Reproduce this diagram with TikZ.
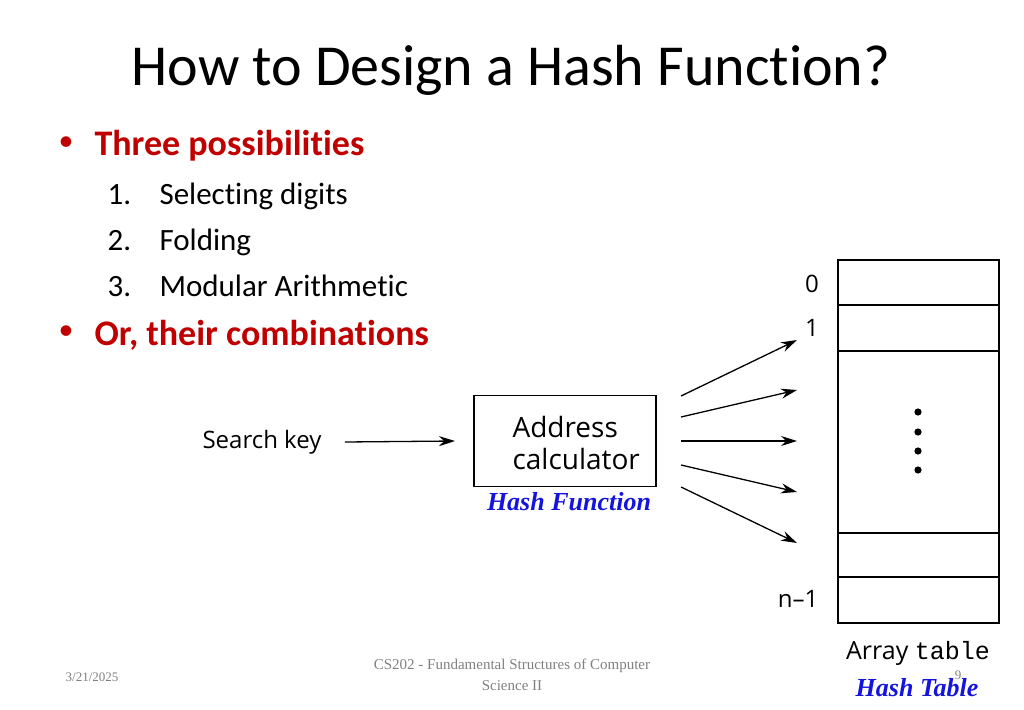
\documentclass[tikz,border=0pt]{standalone}
\usepackage{fontspec}
\setmainfont[Ligatures=NoCommon]{Carlito}
\newfontfamily\diagfont{Open Sans}
\newfontfamily\timesfont{Liberation Serif}
\newfontfamily\monofont{Liberation Mono}
\usetikzlibrary{arrows.meta}
\definecolor{darkred}{RGB}{192,0,0}
\definecolor{hashblue}{RGB}{20,20,220}
\tikzset{
  bullet/.style={anchor=west,font=\fontsize{36}{40}\selectfont\bfseries,text=darkred},
  dot/.style={font=\fontsize{30}{34}\selectfont,text=darkred},
  item/.style={anchor=base west,font=\fontsize{31}{34}\selectfont},
  diag/.style={font=\diagfont\fontsize{24}{28}\selectfont},
  blue label/.style={font=\timesfont\fontsize{26}{30}\selectfont\bfseries\itshape,text=hashblue},
  ptr/.style={-{Stealth[length=16pt,width=10pt]},line width=1.3pt}
}
\begin{document}
\begin{tikzpicture}[x=1pt,y=-1pt]
\useasboundingbox (0,0) rectangle (1024,709);
% title and bullets
\node (title) at (511,70) {\fontsize{58}{64}\selectfont How to Design a Hash Function?};
\node[dot] (d1) at (66,144) {\textbullet};
\node[bullet] (b1) at (91,146) {Three possibilities};
\foreach \n/\t/\y in {1/Selecting digits/204,2/Folding/250,3/Modular Arithmetic/296}{
  \node[item] (n\n) at (104,\y) {\n.};
  \node[item] (i\n) at (156,\y) {\t};
}
\node[dot] (d2) at (66,333) {\textbullet};
\node[bullet] (b2) at (91,335) {Or, their combinations};
% array table
\draw[line width=1.4pt] (838,260) rectangle (999,623);
\foreach \y in {305,351,533,577}
  \draw[line width=1.4pt] (838,\y) -- (999,\y);
\foreach \y in {412,432,451,470}
  \fill (918,\y) circle (3.6pt);
\node[diag] (l0) at (812,284) {0};
\node[diag] (l1) at (812,328) {1};
\node[diag] (ln) at (798,599) {n–1};
\node[diag,font=\diagfont\fontsize{25}{28}\selectfont] (arr) at (918,653) {Array {\monofont table}};
\node[blue label] (ht) at (917,688) {Hash Table};
% address calculator
\node[draw,line width=1.4pt,minimum width=182pt,minimum height=91pt] (calc) at (565,441) {};
\node[diag,font=\diagfont\fontsize{28}{32}\selectfont,align=left,anchor=west] (calctext) at (509,443) {Address\\calculator};
\node[blue label] (hf) at (569,502) {Hash Function};
\node[diag] (key) at (262,442) {Search key};
\draw[ptr] (key.east) ++(20pt,0) coordinate (k0) -- (455,441) coordinate (k1);
\foreach \a/\b in {396/340,417/390,441/441,465/492,487/543}
  \draw[ptr] (681,\a) coordinate (s\a) -- (797,\b) coordinate (e\a);
% footer
\node[font=\timesfont\fontsize{13}{15}\selectfont,text=gray] (date) at (92,677) {3/21/2025};
\node[font=\timesfont\fontsize{15}{21}\selectfont,text=gray,align=center] (foot) at (512,675) {CS202 - Fundamental Structures of Computer\\Science II};
\node[font=\timesfont\fontsize{13}{15}\selectfont,text=gray] (page) at (958,675) {9};
\end{tikzpicture}
\end{document}
